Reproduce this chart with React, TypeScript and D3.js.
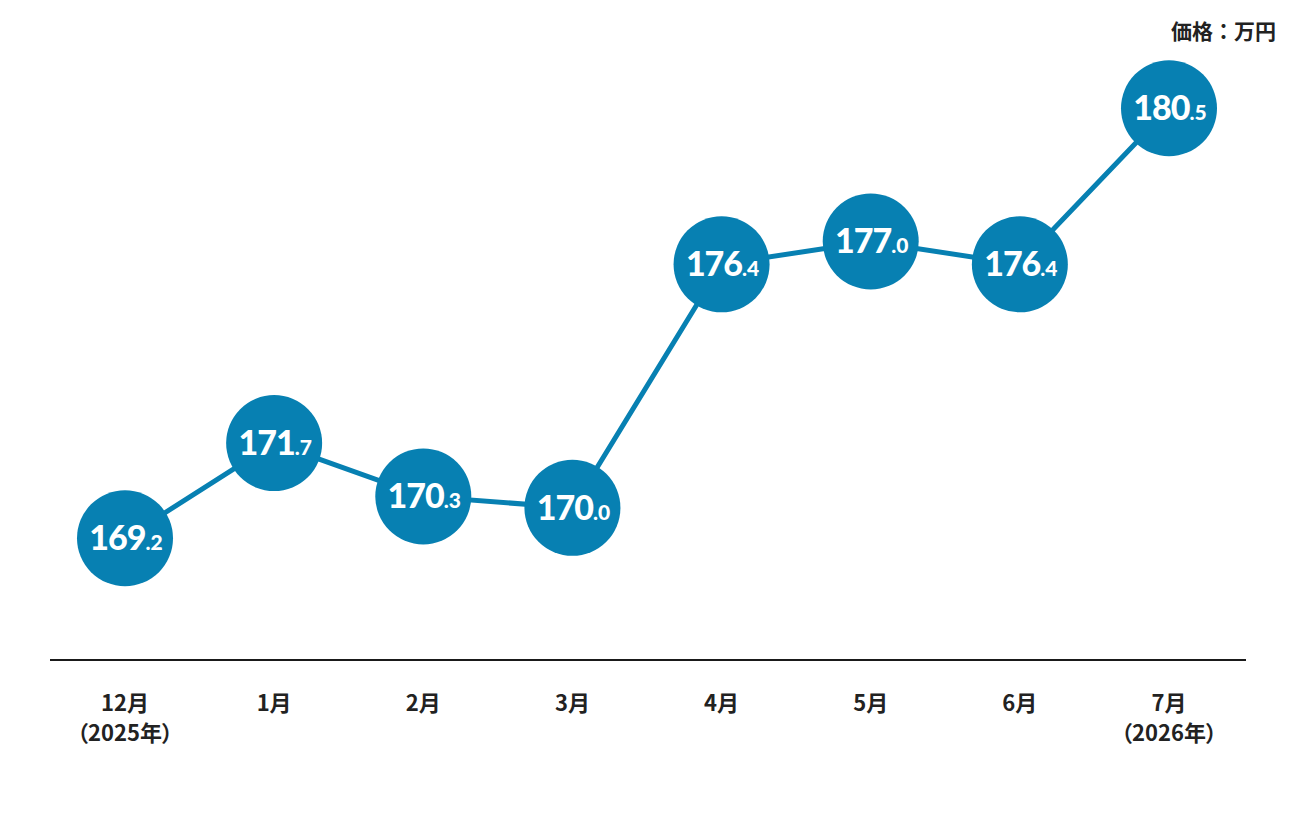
import React from "react";
import * as d3 from "d3";

const months = ["12月", "1月", "2月", "3月", "4月", "5月", "6月", "7月"];
const yearNotes = ["（2025年）", "", "", "", "", "", "", "（2026年）"];
const prices = [169.2, 171.7, 170.3, 170.0, 176.4, 177.0, 176.4, 180.5];
const unitLabel = "価格：万円";

const W = 1296;
const H = 816;
const BLUE = "#0780b2";
const jpFont = "'Noto Sans CJK JP', 'Noto Sans', sans-serif";
const numFont = "Lato, 'Noto Sans', sans-serif";

export default function App() {
    const x = d3.scalePoint<string>()
        .domain(months)
        .range([125, 1169]);
    const y = d3.scaleLinear([166, 182], [660, 660 - 16 * 38.05]);

    const line = d3.line<number>()
        .x((d, i) => x(months[i])!)
        .y((d) => y(d));

    return <svg width={W} height={H}
        style={{ position: "fixed", left: 0, top: 0, background: "#fff" }}>
        {/* unit */}
        <text x={1276} y={39} textAnchor="end" fontFamily={jpFont}
            fontWeight={700} fontSize={21} fill="#222">{unitLabel}</text>

        {/* baseline */}
        <line x1={50} x2={1246} y1={y(166)} y2={y(166)} stroke="#1a1a1a" strokeWidth={2} />

        {/* x labels */}
        {months.map((m, i) => (
            <g key={m} fontFamily={jpFont} fontWeight={700} fontSize={22} fill="#222"
                textAnchor="middle" style={{ fontFeatureSettings: '"palt"' }}>
                <text x={x(m)} y={711}>{m}</text>
                {yearNotes[i] && <text x={x(m)} y={741}>{yearNotes[i]}</text>}
            </g>
        ))}

        <path d={line(prices)!} fill="none" stroke={BLUE} strokeWidth={5} />

        {prices.map((p, i) => {
            const cx = x(months[i])!;
            const cy = y(p);
            const [whole, dec] = p.toFixed(1).split(".");
            return <g key={i}>
                <circle cx={cx} cy={cy} r={48} fill={BLUE} />
                <text x={cx + 1} y={cy + 12} textAnchor="middle" fill="#fff"
                    fontFamily={numFont} fontWeight={900}>
                    <tspan fontSize={34} letterSpacing={-1}>{whole}</tspan>
                    <tspan fontSize={21}>.{dec}</tspan>
                </text>
            </g>;
        })}
    </svg>;
}
